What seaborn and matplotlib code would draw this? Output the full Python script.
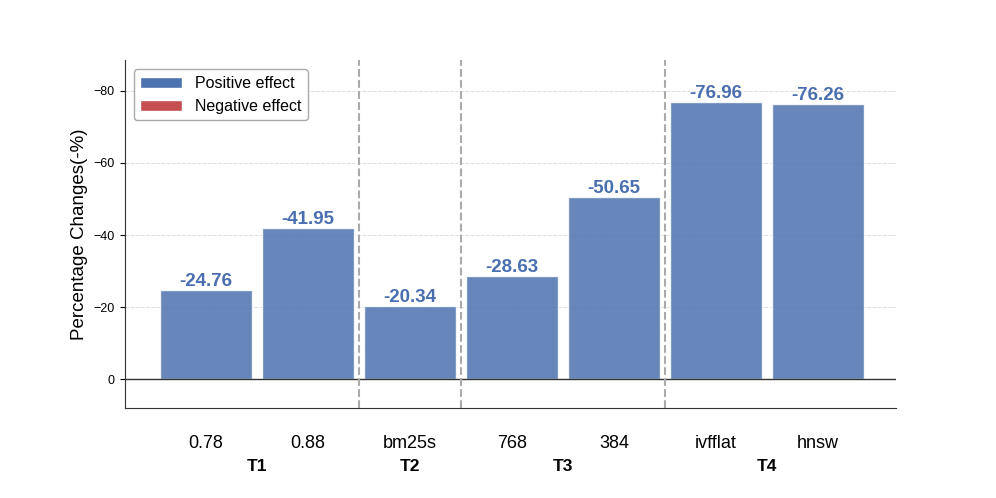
import numpy as np
import pandas as pd
import matplotlib
matplotlib.use("Agg")
import matplotlib.pyplot as plt
import seaborn as sns
from matplotlib.patches import Patch

labels = ["0.78", "0.88", "bm25s", "768", "384", "ivfflat", "hnsw"]
groups = ["T1", "T1", "T2", "T3", "T3", "T4", "T4"]
values = [-24.76, -41.95, -20.34, -28.63, -50.65, -76.96, -76.26]

df = pd.DataFrame({"label": labels, "group": groups, "value": values})

sns.set_style("ticks")
plt.rcParams["font.family"] = ["Liberation Sans", "DejaVu Sans"]
plt.rcParams["text.color"] = "black"
plt.rcParams["axes.labelcolor"] = "black"
plt.rcParams["xtick.color"] = "black"
plt.rcParams["ytick.color"] = "black"

blue = "#4c72b0"
red = "#c44e52"

fig, ax = plt.subplots(figsize=(9.96, 4.98), dpi=100)
fig.subplots_adjust(left=0.125, right=0.9, top=0.88, bottom=0.18)

sns.barplot(data=df, x="label", y="value", color=blue, alpha=0.85,
            width=0.9, saturation=1, ax=ax)

ax.set_ylim(8, -88.6)
ax.set_xlim(-0.8, 6.77)
ax.set_yticks([0, -20, -40, -60, -80])
ax.tick_params(axis="y", labelsize=9)
ax.tick_params(axis="x", length=0, labelsize=13, pad=19)
ax.set_xlabel("")
ax.set_ylabel("Percentage Changes(-%)", fontsize=13.5)

ax.yaxis.grid(True, linestyle="--", color="#dddddd", linewidth=0.7)
ax.set_axisbelow(True)
ax.axhline(0, color="#333333", linewidth=1)

for s in ["top", "right"]:
    ax.spines[s].set_visible(False)
for s in ["left", "bottom"]:
    ax.spines[s].set_color("#333333")

for i, v in enumerate(values):
    ax.text(i, v, f"{v:.2f}", ha="center", va="bottom", fontsize=13.5,
            fontweight="bold", color="#4a6fb0")

# group separators
for xs in [1.5, 2.5, 4.5]:
    ax.axvline(xs, color="#aaaaaa", linestyle="--", linewidth=1.5)

# group labels
trans = ax.get_xaxis_transform()
uniq = []
for g in groups:
    if g not in uniq:
        uniq.append(g)
for g in uniq:
    idx = [i for i, gg in enumerate(groups) if gg == g]
    ax.text(np.mean(idx), -0.145, g, transform=trans, ha="center", va="top",
            fontsize=12.5, fontweight="bold")

handles = [Patch(facecolor=blue, label="Positive effect"),
           Patch(facecolor=red, label="Negative effect")]
ax.legend(handles=handles, loc="upper left", fontsize=11.5, frameon=True,
          edgecolor="#aaaaaa", framealpha=1, borderaxespad=0.6,
          handlelength=2.6)

fig.savefig("out.png", dpi=100)
